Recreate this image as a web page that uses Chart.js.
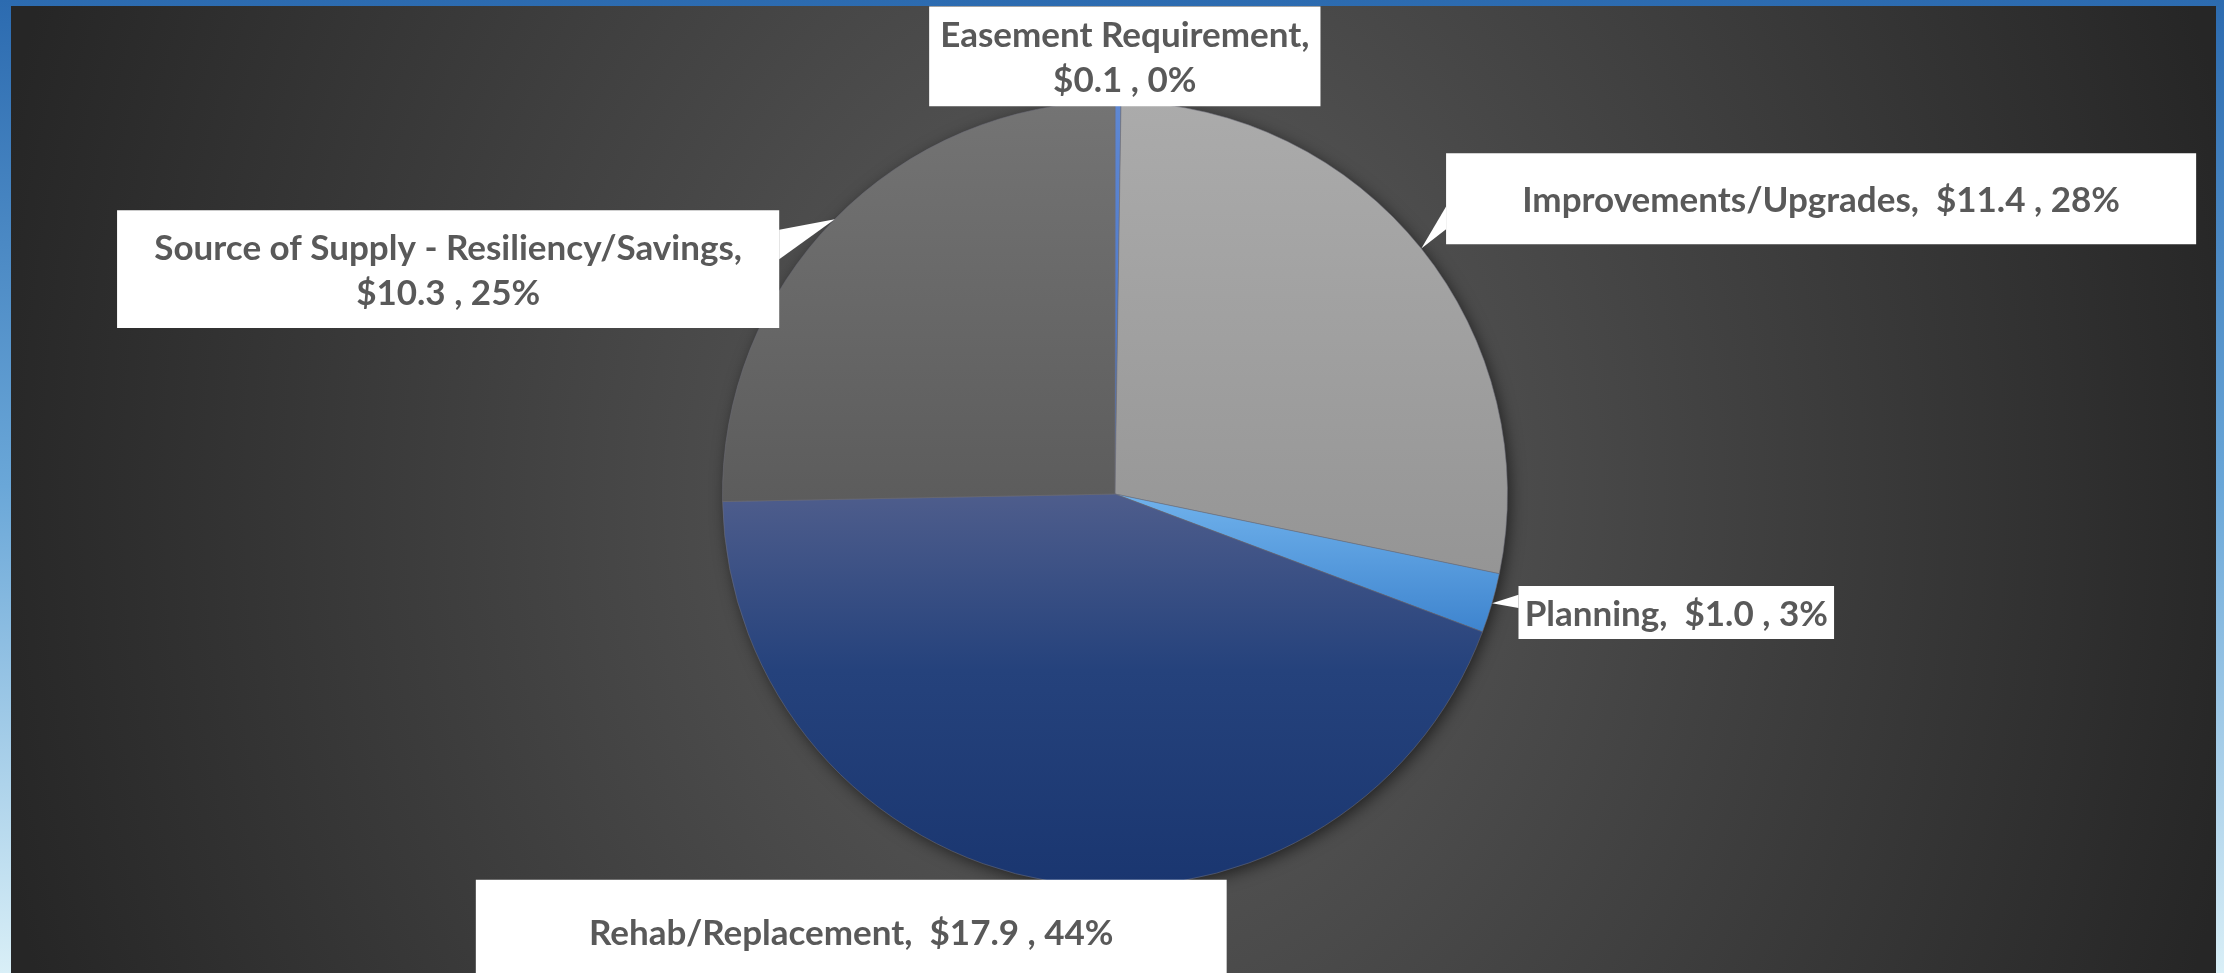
<!DOCTYPE html>
<html>
<head>
<meta charset="utf-8">
<script src="https://cdn.jsdelivr.net/npm/chart.js@4.4.0/dist/chart.umd.min.js"></script>
<style>
  html, body { margin: 0; padding: 0; width: 2224px; height: 973px; overflow: hidden; }
  body { position: relative; background: linear-gradient(to bottom, #2c6bb0 0%, #6aa7d8 50%, #d9eff7 100%); }
  #panel {
    position: absolute; left: 11px; top: 6px; width: 2205px; height: 967px;
    background: radial-gradient(ellipse 1150px 1400px at 1104px 488px, #5a5a5a 0%, #4e4e4e 30%, #262626 100%);
  }
  #chart { position: absolute; left: 0; top: 0; }
</style>
</head>
<body>
<div id="panel"></div>
<canvas id="chart" width="2224" height="973"></canvas>
<script>
// datos del grafico
const categories = ['Easement Requirement', 'Improvements/Upgrades', 'Planning', 'Rehab/Replacement', 'Source of Supply - Resiliency/Savings'];
const values = [0.1, 11.4, 1.0, 17.9, 10.3];
const valueLabels = ['$0.1', '$11.4', '$1.0', '$17.9', '$10.3'];
const percentLabels = ['0%', '28%', '3%', '44%', '25%'];

// gradient stops for each slice (top -> bottom of the slice)
const sliceColors = [
    [[0, '#5f88d3'], [1, '#4571c3']],
    [[0, '#ababab'], [1, '#959595']],
    [[0, '#70b2ec'], [1, '#3e84ce']],
    [[0, '#4e5d8c'], [0.45, '#25427c'], [1, '#1a3670']],
    [[0, '#747474'], [1, '#5c5c5c']]
];

// label boxes, in units of the pie radius, relative to the pie centre
const labelLayout = [
    { dx: 0.025, dy: -1.115, w: 0.997, h: 0.254, wrap: true },
    { dx: 1.799, dy: -0.752, w: 1.911, h: 0.232, wrap: false },
    { dx: 1.430, dy: 0.302, w: 0.804, h: 0.135, wrap: false },
    { dx: -0.672, dy: 1.115, w: 1.913, h: 0.265, wrap: false },
    { dx: -1.699, dy: -0.573, w: 1.687, h: 0.300, wrap: true }
];

const labelFont = 'bold 35px Lato, "Open Sans", sans-serif';
const labelColor = '#595959';
const lineHeight = 45;

// gradient over the bounding box of each slice
function sliceFill(context) {
    const i = context.dataIndex;
    const chart = context.chart;
    const area = chart.chartArea;
    if (!area) return sliceColors[i][0][1];
    const cx = (area.left + area.right) / 2;
    const cy = (area.top + area.bottom) / 2;
    const r = Math.min(area.right - area.left, area.bottom - area.top) / 2;
    const total = values.reduce((a, b) => a + b, 0);
    let before = 0;
    for (let k = 0; k < i; k++) before += values[k];
    const a0 = -Math.PI / 2 + before / total * Math.PI * 2;
    const a1 = a0 + values[i] / total * Math.PI * 2;
    const ys = [cy, cy + r * Math.sin(a0), cy + r * Math.sin(a1)];
    [-Math.PI / 2, Math.PI / 2, Math.PI * 1.5].forEach((t) => {
        if (t > a0 && t < a1) ys.push(cy + r * Math.sin(t));
    });
    const y0 = Math.min(...ys);
    const y1 = Math.max(...ys);
    const g = chart.ctx.createLinearGradient(0, y0, 0, y1 + 0.01);
    sliceColors[i].forEach((s) => g.addColorStop(s[0], s[1]));
    return g;
}

// soft shadow under the pie
const pieShadow = {
    id: 'pieShadow',
    beforeDatasetsDraw(chart) {
        const arc = chart.getDatasetMeta(0).data[0];
        if (!arc) return;
        const p = arc.getProps(['x', 'y', 'outerRadius'], true);
        const ctx = chart.ctx;
        ctx.save();
        ctx.shadowColor = 'rgba(0,0,0,0.6)';
        ctx.shadowBlur = 16;
        ctx.shadowOffsetX = 3;
        ctx.shadowOffsetY = 4;
        ctx.fillStyle = '#4a4a4a';
        ctx.beginPath();
        ctx.arc(p.x, p.y, p.outerRadius - 1, 0, Math.PI * 2);
        ctx.fill();
        ctx.restore();
    }
};

// white callout boxes with a pointer to the slice
const calloutLabels = {
    id: 'calloutLabels',
    afterDatasetsDraw(chart) {
        const ctx = chart.ctx;
        const meta = chart.getDatasetMeta(0);
        meta.data.forEach((arc, i) => {
            const p = arc.getProps(['x', 'y', 'startAngle', 'endAngle', 'outerRadius'], true);
            const R = p.outerRadius;
            const mid = (p.startAngle + p.endAngle) / 2;
            const tip = { x: p.x + Math.cos(mid) * R, y: p.y + Math.sin(mid) * R };
            const L = labelLayout[i];
            const w = L.w * R;
            const h = L.h * R;
            const left = p.x + L.dx * R - w / 2;
            const top = p.y + L.dy * R - h / 2;

            ctx.save();
            ctx.fillStyle = '#ffffff';
            ctx.beginPath();
            ctx.rect(left, top, w, h);
            ctx.fill();

            // pointer, only when the tip is outside the box
            let b1 = null;
            let b2 = null;
            const upper = tip.y < top + h / 2;
            if (tip.x < left - 2 || tip.x > left + w + 2) {
                const ex = tip.x < left ? left : left + w;
                const f1 = upper ? 1 / 6 : 7 / 12;
                const f2 = upper ? 5 / 12 : 5 / 6;
                b1 = [ex, top + h * f1];
                b2 = [ex, top + h * f2];
            } else if (tip.y < top - 3 || tip.y > top + h + 3) {
                const ey = tip.y < top ? top : top + h;
                const leftSide = tip.x < left + w / 2;
                const f1 = leftSide ? 1 / 6 : 7 / 12;
                const f2 = leftSide ? 5 / 12 : 5 / 6;
                b1 = [left + w * f1, ey];
                b2 = [left + w * f2, ey];
            }
            if (b1) {
                ctx.beginPath();
                ctx.moveTo(b1[0], b1[1]);
                ctx.lineTo(tip.x, tip.y);
                ctx.lineTo(b2[0], b2[1]);
                ctx.closePath();
                ctx.fill();
            }

            const tail = valueLabels[i] + ' , ' + percentLabels[i];
            const lines = L.wrap ? [categories[i] + ',', tail] : [categories[i] + ',  ' + tail];
            ctx.font = labelFont;
            ctx.fillStyle = labelColor;
            ctx.textAlign = 'center';
            ctx.textBaseline = 'middle';
            const cx = left + w / 2;
            const cy = top + h / 2;
            lines.forEach((line, k) => {
                const ly = cy + (k - (lines.length - 1) / 2) * lineHeight + 2;
                ctx.fillText(line, cx, ly);
            });
            ctx.restore();
        });
    }
};

function makePieChart() {
    const ctx = document.getElementById('chart').getContext('2d');
    const myChart = new Chart(ctx, {
        type: 'pie',
        data: {
            labels: categories,
            datasets: [{
                data: values,
                backgroundColor: sliceFill,
                borderColor: 'rgba(110,110,120,0.55)',
                borderWidth: 1,
                hoverOffset: 0,
                offset: 0
            }]
        },
        options: {
            responsive: false,
            animation: false,
            layout: { padding: { top: 101, bottom: 86, left: 6, right: 0 } },
            plugins: {
                legend: { display: false },
                tooltip: { enabled: false }
            }
        },
        plugins: [pieShadow, calloutLabels]
    });
    myChart.render();
}

makePieChart();
</script>
</body>
</html>
